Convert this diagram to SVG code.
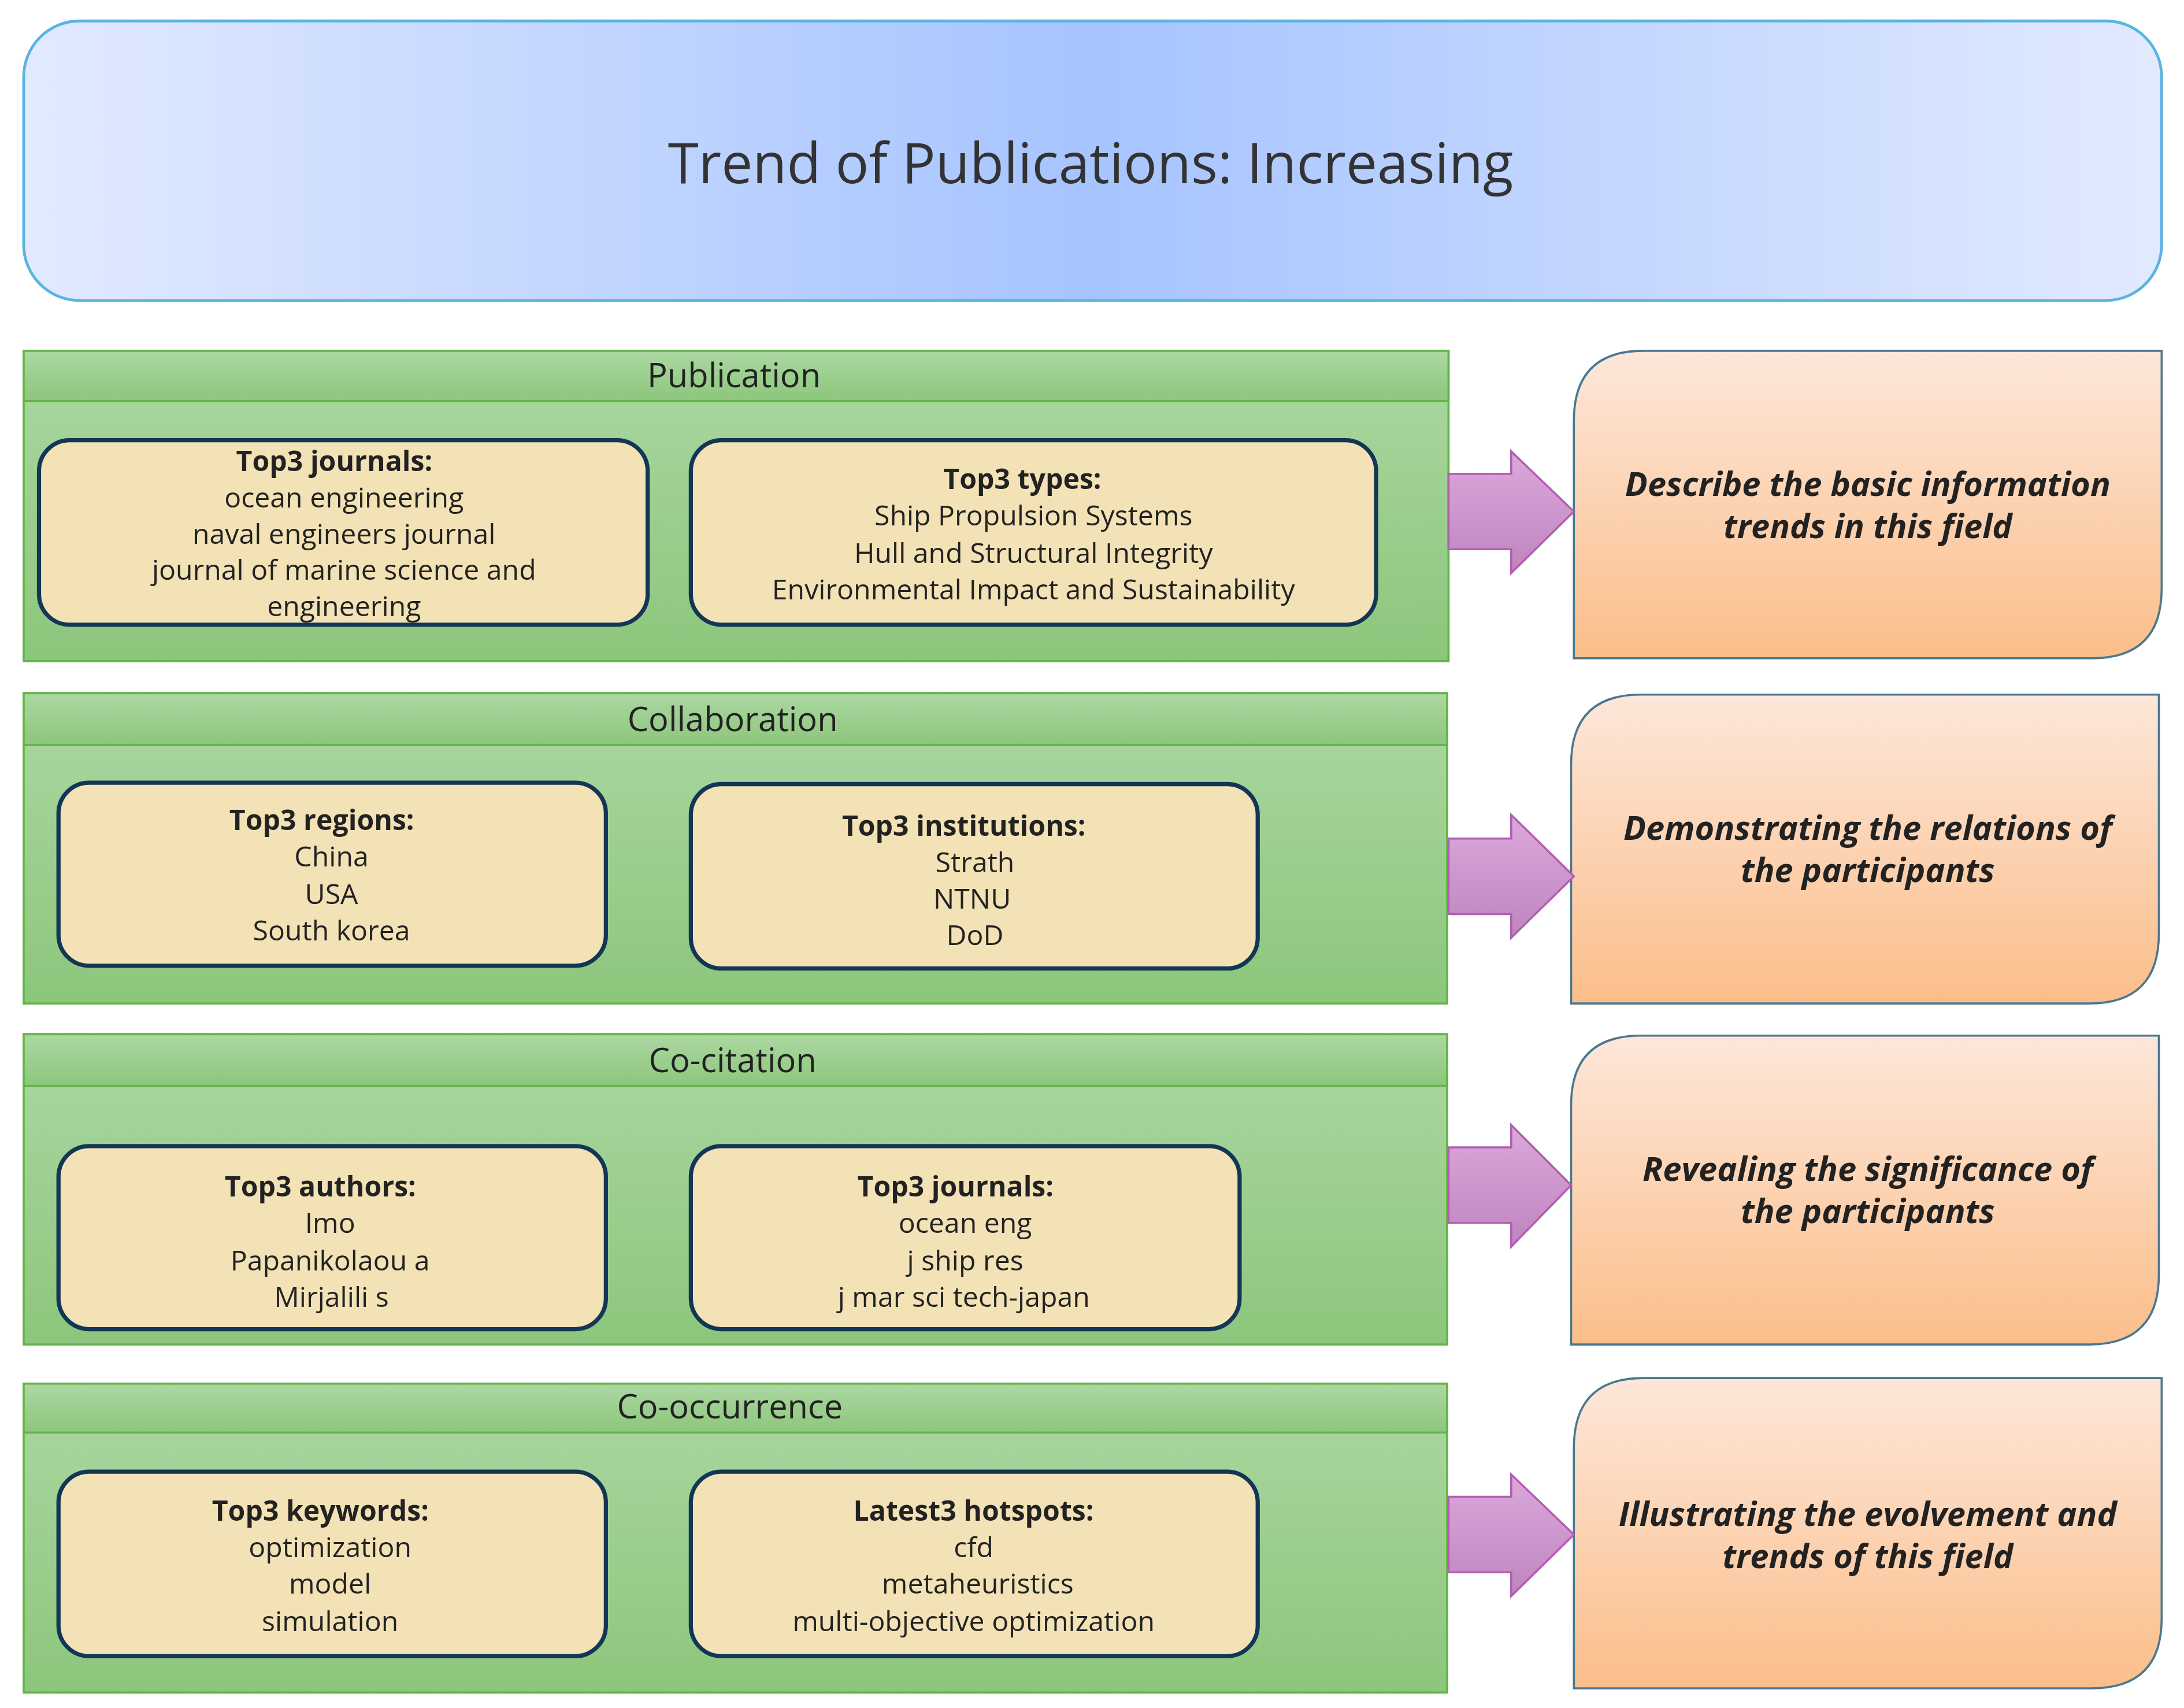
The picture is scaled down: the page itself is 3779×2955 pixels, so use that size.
<svg xmlns="http://www.w3.org/2000/svg" width="3779" height="2955" viewBox="0 0 3779 2955">
<defs>
<linearGradient id="gt" x1="0" y1="0" x2="1" y2="0"><stop offset="0" stop-color="#e2eaff"/><stop offset="0.5" stop-color="#a6c4ff"/><stop offset="1" stop-color="#e2eaff"/></linearGradient>
<linearGradient id="gg" x1="0" y1="0" x2="0" y2="1"><stop offset="0" stop-color="#acd8a2"/><stop offset="1" stop-color="#8cc67c"/></linearGradient>
<linearGradient id="go" x1="0" y1="0" x2="0" y2="1"><stop offset="0" stop-color="#fde7da"/><stop offset="1" stop-color="#fbbe8a"/></linearGradient>
<linearGradient id="gp" x1="0" y1="0" x2="0" y2="1"><stop offset="0" stop-color="#dca8dc"/><stop offset="1" stop-color="#bf84bf"/></linearGradient>
<style>
text{font-family:"Open Sans","Noto Sans","Liberation Sans",sans-serif;text-anchor:middle;fill:#222}
.panel{fill:url(#gg);stroke:#62b446;stroke-width:1.5}
.hdr{fill:url(#gg);stroke:#62b446;stroke-width:1.5}
.ht{font-size:24px}
.box{fill:#f2e2b5;stroke:#143656;stroke-width:3}
.bt{font-size:20px}
.b{font-weight:bold}
.res{fill:url(#go);stroke:#4a7890;stroke-width:1.5}
.rt{font-size:24px;font-weight:bold;font-style:italic}
.arr{fill:url(#gp);stroke:#b060b0;stroke-width:1.5}
</style>
</defs>
<g transform="scale(2.41,2.418)">
<g id="title"><rect x="17" y="15" width="1535" height="200" rx="40" fill="url(#gt)" stroke="#5ab4e0" stroke-width="2"/><text x="783" y="131" font-size="40" style="fill:#333">Trend of Publications: Increasing</text></g>

<g id="sec1"><rect class="panel" x="17" y="251" width="1023" height="222"/><rect class="hdr" x="17" y="251" width="1023" height="36"/><text class="ht" x="527" y="277">Publication</text></g>
<g id="sec1a"><rect class="box" x="28" y="315" width="437" height="132" rx="22"/><text class="bt" x="240"><tspan class="b" x="240" y="337">Top3 journals:</tspan><tspan x="247" y="363">ocean engineering</tspan><tspan x="247" y="389">naval engineers journal</tspan><tspan x="247" y="415">journal of marine science and</tspan><tspan x="247" y="441">engineering</tspan></text></g>
<g id="sec1b"><rect class="box" x="496" y="315" width="492" height="132" rx="22"/><text class="bt" x="742"><tspan class="b" x="734" y="350">Top3 types:</tspan><tspan x="742" y="376">Ship Propulsion Systems</tspan><tspan x="742" y="403">Hull and Structural Integrity</tspan><tspan x="742" y="429">Environmental Impact and Sustainability</tspan></text></g>

<g id="sec2"><rect class="panel" x="17" y="496" width="1022" height="222"/><rect class="hdr" x="17" y="496" width="1022" height="37"/><text class="ht" x="526" y="523">Collaboration</text></g>
<g id="sec2a"><rect class="box" x="42" y="560" width="393" height="131" rx="22"/><text class="bt"><tspan class="b" x="231" y="594">Top3 regions:</tspan><tspan x="238" y="620">China</tspan><tspan x="238" y="647">USA</tspan><tspan x="238" y="673">South korea</tspan></text></g>
<g id="sec2b"><rect class="box" x="496" y="561" width="407" height="132" rx="22"/><text class="bt"><tspan class="b" x="692" y="598">Top3  institutions:</tspan><tspan x="700" y="624">Strath</tspan><tspan x="698" y="650">NTNU</tspan><tspan x="700" y="676">DoD</tspan></text></g>

<g id="sec3"><rect class="panel" x="17" y="740" width="1022" height="222"/><rect class="hdr" x="17" y="740" width="1022" height="37"/><text class="ht" x="526" y="767">Co-citation</text></g>
<g id="sec3a"><rect class="box" x="42" y="820" width="393" height="131" rx="22"/><text class="bt"><tspan class="b" x="230" y="856">Top3 authors:</tspan><tspan x="237" y="882">Imo</tspan><tspan x="237" y="909">Papanikolaou a</tspan><tspan x="238" y="935">Mirjalili s</tspan></text></g>
<g id="sec3b"><rect class="box" x="496" y="820" width="394" height="131" rx="22"/><text class="bt"><tspan class="b" x="686" y="856">Top3 journals:</tspan><tspan x="693" y="882">ocean eng</tspan><tspan x="693" y="909">j ship res</tspan><tspan x="692" y="935">j mar sci tech-japan</tspan></text></g>

<g id="sec4"><rect class="panel" x="17" y="990" width="1022" height="221"/><rect class="hdr" x="17" y="990" width="1022" height="35"/><text class="ht" x="524" y="1015">Co-occurrence</text></g>
<g id="sec4a"><rect class="box" x="42" y="1053" width="393" height="132" rx="22"/><text class="bt"><tspan class="b" x="230" y="1088">Top3 keywords:</tspan><tspan x="237" y="1114">optimization</tspan><tspan x="237" y="1140">model</tspan><tspan x="237" y="1167">simulation</tspan></text></g>
<g id="sec4b"><rect class="box" x="496" y="1053" width="407" height="132" rx="22"/><text class="bt"><tspan class="b" x="699" y="1088">Latest3 hotspots:</tspan><tspan x="699" y="1114">cfd</tspan><tspan x="702" y="1140">metaheuristics</tspan><tspan x="699" y="1167">multi-objective optimization</tspan></text></g>

<g id="res1"><path class="res" d="M1180 251 H1552 V421 Q1552 471 1502 471 H1130 V301 Q1130 251 1180 251 Z"/><text class="rt"><tspan x="1341" y="355">Describe the basic information</tspan><tspan x="1341" y="385">trends in this field</tspan></text></g>
<g id="res2"><path class="res" d="M1178 497 H1550 V668 Q1550 718 1500 718 H1128 V547 Q1128 497 1178 497 Z"/><text class="rt"><tspan x="1341" y="601">Demonstrating the relations of</tspan><tspan x="1341" y="631">the participants</tspan></text></g>
<g id="res3"><path class="res" d="M1178 741 H1550 V912 Q1550 962 1500 962 H1128 V791 Q1128 741 1178 741 Z"/><text class="rt"><tspan x="1341" y="845">Revealing the significance of</tspan><tspan x="1341" y="875">the participants</tspan></text></g>
<g id="res4"><path class="res" d="M1180 986 H1552 V1158 Q1552 1208 1502 1208 H1130 V1036 Q1130 986 1180 986 Z"/><text class="rt"><tspan x="1341" y="1092">Illustrating the evolvement and</tspan><tspan x="1341" y="1122">trends of this field</tspan></text></g>

<g id="connectors">
<path class="arr" d="M1040 339 H1085 V323 L1130 366 L1085 410 V393 H1040 Z"/>
<path class="arr" d="M1040 600 H1085 V583 L1130 627 L1085 671 V654 H1040 Z"/>
<path class="arr" d="M1040 821 H1085 V805 L1128 848 L1085 892 V875 H1040 Z"/>
<path class="arr" d="M1040 1071 H1085 V1055 L1130 1098 L1085 1142 V1125 H1040 Z"/>
</g>
</g>
</svg>
